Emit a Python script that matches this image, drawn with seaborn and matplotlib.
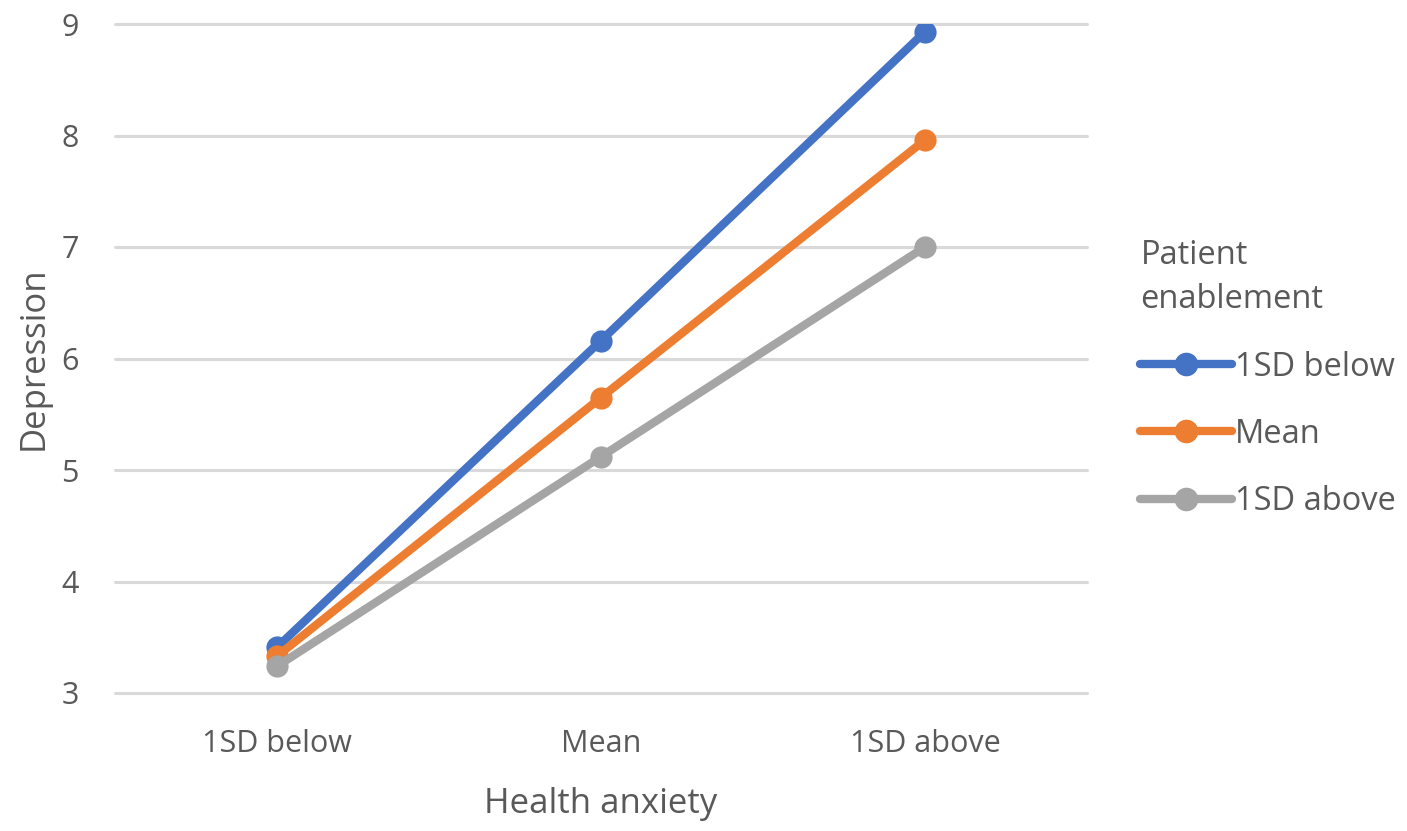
import matplotlib
matplotlib.use("Agg")
import matplotlib.pyplot as plt
import seaborn as sns
import pandas as pd

categories = ["1SD below", "Mean", "1SD above"]
groups = ["1SD below", "Mean", "1SD above"]
vals_low = [3.41, 6.16, 8.93]
vals_mean = [3.33, 5.65, 7.96]
vals_high = [3.24, 5.12, 7.00]
colors = ["#4472C4", "#ED7D31", "#A5A5A5"]

rows = []
for g, vals in zip(groups, [vals_low, vals_mean, vals_high]):
    for i, (c, v) in enumerate(zip(categories, vals)):
        rows.append({"x": i, "cat": c, "group": g, "val": v})
df = pd.DataFrame(rows)

sns.set_theme(style="white")
plt.rcParams['font.family'] = ['Open Sans', 'DejaVu Sans']
text_color = "#595959"

fig = plt.figure(figsize=(14.07, 8.31), dpi=100)
ax = fig.add_axes([115/1407, 1-693/831, (1087-115)/1407, (693-24)/831])

sns.lineplot(data=df, x="x", y="val", hue="group", hue_order=groups,
             palette=colors, marker="o", markersize=16, markeredgewidth=0,
             linewidth=6, ax=ax, legend=True, solid_capstyle="round")

ax.set_xlim(-0.5, 2.5)
ax.set_ylim(3, 9)
ax.set_yticks(range(3, 10))
ax.set_xticks(range(len(categories)))
ax.set_xticklabels(categories)
ax.yaxis.grid(True, color="#D9D9D9", linewidth=2.2)
ax.xaxis.grid(False)
ax.set_axisbelow(True)
for gl in ax.get_ygridlines():
    gl.set_clip_on(False)
for s in ax.spines.values():
    s.set_visible(False)
ax.tick_params(axis="both", length=0, labelsize=22, colors=text_color)
ax.tick_params(axis="y", pad=26)
ax.tick_params(axis="x", pad=26)
ax.set_xlabel("Health anxiety", fontsize=25, color=text_color, labelpad=20)
ax.set_ylabel("Depression", fontsize=25, color=text_color, labelpad=8)

handles, labels = ax.get_legend_handles_labels()
for h in handles:
    h.set_markersize(17)
leg = ax.legend(handles, labels, title="Patient\nenablement", loc="center left",
                bbox_to_anchor=(1.055, 0.47), frameon=False, fontsize=23.5,
                title_fontsize=23.5, handlelength=2.8, labelspacing=1.05,
                handletextpad=0.1, alignment="left", borderaxespad=0,
                borderpad=0)
for t in leg.get_texts():
    t.set_color(text_color)
leg.get_title().set_color(text_color)
leg.get_title().set_linespacing(1.45)

fig.savefig("out.png", dpi=100)
